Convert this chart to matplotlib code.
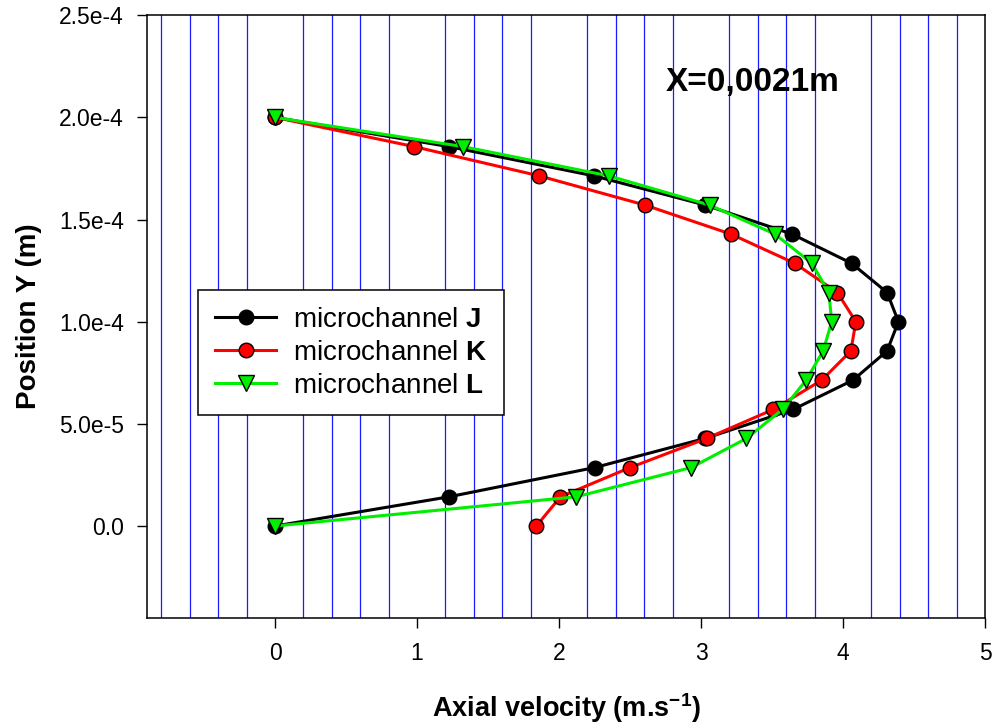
import matplotlib
matplotlib.use('Agg')
import matplotlib.pyplot as plt
from matplotlib.ticker import MultipleLocator

plt.rcParams['font.family'] = ['Liberation Sans', 'DejaVu Sans']
plt.rcParams['mathtext.fontset'] = 'custom'
plt.rcParams['mathtext.rm'] = 'Liberation Sans'
plt.rcParams['mathtext.bf'] = 'Liberation Sans:bold'

# position across the channel (m)
position_y = [0.0, 1.43e-5, 2.86e-5, 4.29e-5, 5.71e-5, 7.14e-5, 8.57e-5, 1.0e-4,
              1.143e-4, 1.286e-4, 1.429e-4, 1.571e-4, 1.714e-4, 1.857e-4, 2.0e-4]

# axial velocity (m/s) for each microchannel
vel_j = [0.0, 1.225, 2.25, 3.03, 3.65, 4.07, 4.31, 4.39, 4.31, 4.06, 3.64, 3.03, 2.245, 1.225, 0.0]
vel_k = [1.84, 2.01, 2.50, 3.04, 3.51, 3.85, 4.055, 4.09, 3.96, 3.66, 3.21, 2.605, 1.86, 0.98, 0.0]
vel_l = [0.0, 2.12, 2.93, 3.32, 3.575, 3.74, 3.86, 3.92, 3.90, 3.78, 3.52, 3.06, 2.35, 1.325, 0.0]

labels = [r'microchannel $\mathbf{J}$', r'microchannel $\mathbf{K}$', r'microchannel $\mathbf{L}$']

y_ticks = [0.0, 5e-5, 1e-4, 1.5e-4, 2e-4, 2.5e-4]
y_ticklabels = ['0.0', '5.0e-5', '1.0e-4', '1.5e-4', '2.0e-4', '2.5e-4']
x_ticks = [0, 1, 2, 3, 4, 5]

fig = plt.figure(figsize=(9.95, 7.27), dpi=100)
ax = fig.add_axes([0.148, 0.150, 0.842, 0.829])

ax.plot(vel_j, position_y, color='black', lw=2.2, marker='o', ms=10.5,
        mfc='black', mec='black', mew=1, label=labels[0])
ax.plot(vel_k, position_y, color='#ff0000', lw=2.2, marker='o', ms=10.5,
        mfc='#ff0000', mec='black', mew=1, label=labels[1])
ax.plot(vel_l, position_y, color='#00ee00', lw=2.2, marker='v', ms=11.5,
        mfc='#00ee00', mec='black', mew=1, label=labels[2])

ax.set_xlim(-0.9, 5)
ax.set_ylim(-4.5e-5, 2.5e-4)
ax.set_xticks(x_ticks)
ax.set_yticks(y_ticks)
ax.set_yticklabels(y_ticklabels)

# blue grid only on the 0.2 minor steps
ax.xaxis.set_minor_locator(MultipleLocator(0.2))
ax.grid(which='minor', axis='x', color='#1a1aff', lw=0.9)
ax.set_axisbelow(True)
ax.tick_params(which='minor', length=0)
ax.tick_params(which='major', direction='out', length=7, width=1, labelsize=16.5, pad=10)

for s in ax.spines.values():
    s.set_linewidth(1.1)

ax.set_xlabel(r'Axial velocity (m.s$\mathbf{^{-1}}$)', fontsize=19.5, fontweight='bold', labelpad=19)
ax.set_ylabel('Position Y (m)', fontsize=20, fontweight='bold', labelpad=12)

ax.text(0.723, 0.889, 'X=0,0021m', transform=ax.transAxes, ha='center', va='center',
        fontsize=24, fontweight='bold')

leg = ax.legend(loc='upper left', bbox_to_anchor=(0.061, 0.544), borderaxespad=0,
                fontsize=20, fancybox=False, edgecolor='black', framealpha=1,
                handlelength=2.2, handletextpad=0.6, borderpad=0.6, labelspacing=0.25)
leg.get_frame().set_linewidth(1.1)

fig.savefig('out.png', dpi=100)
